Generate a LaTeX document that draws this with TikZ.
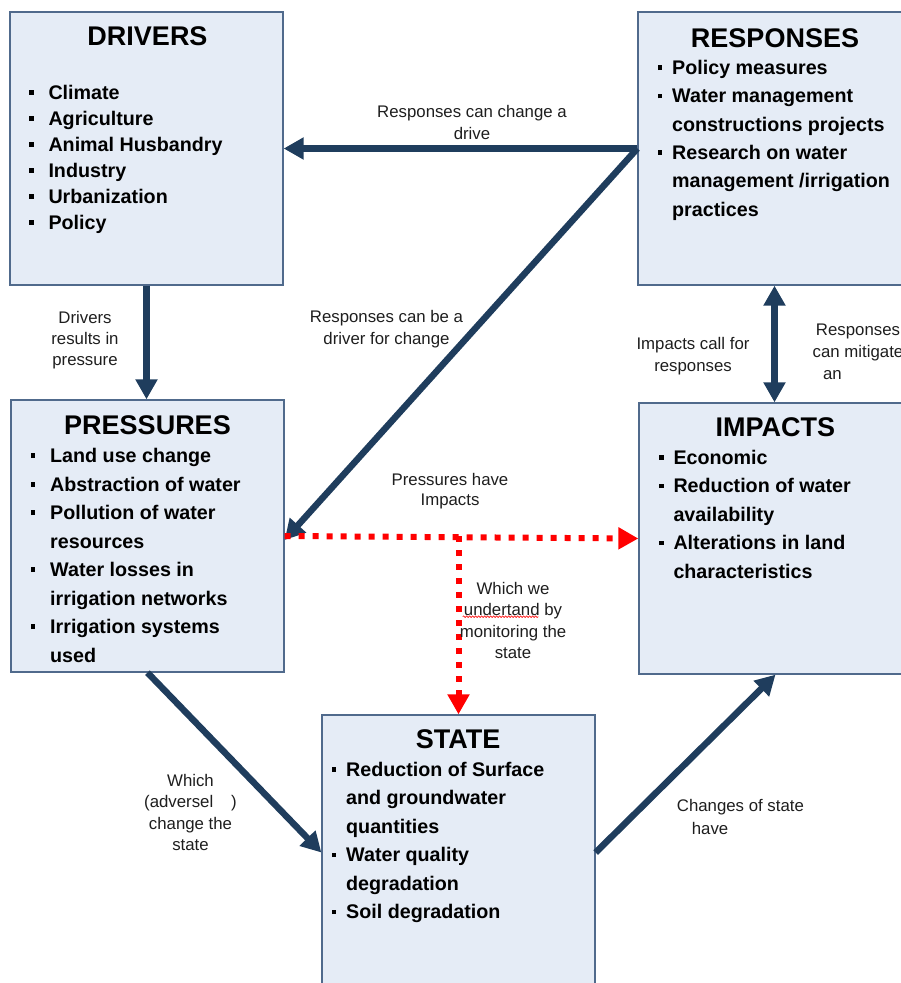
\documentclass[tikz,border=0pt]{standalone}
\usepackage{fontspec}
\setmainfont{Liberation Sans}
\usetikzlibrary{arrows.meta,decorations.pathmorphing}

\definecolor{boxfill}{RGB}{229,236,246}
\definecolor{boxline}{RGB}{80,106,140}
\definecolor{navy}{RGB}{31,61,93}
\definecolor{notetext}{RGB}{30,30,30}

% square bullet hung left of the text
\newcommand{\bul}[1]{\llap{\rule[4.5pt]{4.6pt}{4.6pt}\hspace{#1}}}

\tikzset{
  navytip/.tip={Triangle[length=20pt,width=21pt]},
  box/.style={draw=boxline, fill=boxfill, line width=1.3pt, inner sep=0pt, minimum width=273pt},
  head/.style={font=\fontsize{27}{32}\selectfont\bfseries, inner sep=0pt, anchor=base},
  items/.style={font=\fontsize{19.7}{#1}\selectfont\bfseries, align=left, inner sep=0pt, anchor=north west},
  items/.default=28.5,
  note/.style={font=\fontsize{16.8}{#1}\selectfont, text=notetext, align=center, inner sep=0pt, anchor=north},
  note/.default=22,
  flow/.style={draw=navy, line width=6.5pt, -navytip},
  redflow/.style={draw=red, line width=6pt, dash pattern=on 6pt off 8pt, -navytip}
}

\begin{document}
\begin{tikzpicture}[x=1pt,y=1pt,yscale=-1]
    \useasboundingbox (0,0) rectangle (901,983);
    \clip (0,0) rectangle (901,983);

    %Shape: Rectangle [boxes]
    \node[box, minimum height=273pt] (drv) at (146.5,148.5) {};
    \node[box, minimum height=273pt] (resp) at (774.5,148.5) {};
    \node[box, minimum height=272pt] (press) at (147.5,536) {};
    \node[box, minimum height=271pt] (imp) at (775.5,538.5) {};
    \node[box, minimum height=275pt] (state) at (458.5,852.5) {};

    %Straight Lines [navy arrows]
    \draw[flow] (resp.west) -- (drv.east);
    \draw[flow] (resp.west) -- ([yshift=4pt]press.east);
    \draw[flow] (drv.south) -- (drv.south |- press.north);
    \draw[flow, navytip-navytip] (resp.south) -- (resp.south |- imp.north);
    \draw[flow] (press.south) -- (state.west);
    \draw[flow] (state.east) -- (imp.south);

    %Straight Lines [red dotted arrows]
    \draw[redflow] (press.east) -- (imp.west);
    \draw[redflow] (state.north |- press.east) -- (state.north);

    % Text Node
    \node[head] (drvhead) at (147.5,45) {DRIVERS};
    \node[items=26] (drvlist) at (48.3,80.8) {\strut\bul{15pt}Climate\\ \bul{15pt}Agriculture\\ \bul{15pt}Animal Husbandry\\ \bul{15pt}Industry\\ \bul{15pt}Urbanization\\ \bul{15pt}Policy};
    % Text Node
    \node[head] (resphead) at (775,47.7) {RESPONSES};
    \node[items=28.3] (resplist) at (672,54.5) {\strut\bul{10pt}Policy measures\\ \bul{10pt}Water management\\ constructions projects\\ \bul{10pt}Research on water\\ management /irrigation\\ practices};
    % Text Node
    \node[head] (presshead) at (147.5,434.3) {PRESSURES};
    \node[items] (presslist) at (50,442.35) {\strut\bul{15pt}Land use change\\ \bul{15pt}Abstraction of water\\ \bul{15pt}Pollution of water\\ resources\\ \bul{15pt}Water losses in\\ irrigation networks\\ \bul{15pt}Irrigation systems\\ used};
    % Text Node
    \node[head] (imphead) at (775.3,436.7) {IMPACTS};
    \node[items] (implist) at (673.3,444.05) {\strut\bul{10pt}Economic\\ \bul{10pt}Reduction of water\\ availability\\ \bul{10pt}Alterations in land\\ characteristics};
    % Text Node
    \node[head] (statehead) at (458,748.3) {STATE};
    \node[items] (statelist) at (346,756.05) {\strut\bul{10pt}Reduction of Surface\\ and groundwater\\ quantities\\ \bul{10pt}Water quality\\ degradation\\ \bul{10pt}Soil degradation};

    % Text Node [arrow notes]
    \node[note] (nchange) at (472,101.9) {\strut Responses can change a\\drive};
    \node[note] (ndriver) at (386.5,306.6) {\strut Responses can be a\\driver for change};
    \node[note=21] (nresult) at (85,308.6) {\strut Drivers\\results in\\pressure};
    \node[note] (ncall) at (693,333.6) {\strut Impacts call for\\responses};
    \node[note] (nmitig) at (858,319.6) {\strut Responses\\can mitigate\\\makebox[70pt][l]{an}};
    \node[note=20] (nhave) at (450,471.5) {\strut Pressures have\\Impacts};
    \node[note=21.3] (nmonit) at (513,579.4) {\strut Which we\\undertand by\\monitoring the\\state};
    \node[note=21.5] (nadverse) at (190.5,770.95) {\strut Which\\(adversel\hspace{18pt})\\change the\\state};
    \node[note=22.3, align=left, anchor=north west] (nstate) at (676.7,796.1) {\strut Changes of state\\\hspace*{15pt}have};

    % spelling squiggle under "undertand"
    \draw[red, line width=0.6pt, decorate, decoration={snake, amplitude=0.8pt, segment length=3pt}] (462.7,616.7) -- (538.3,616.7);
\end{tikzpicture}
\end{document}
